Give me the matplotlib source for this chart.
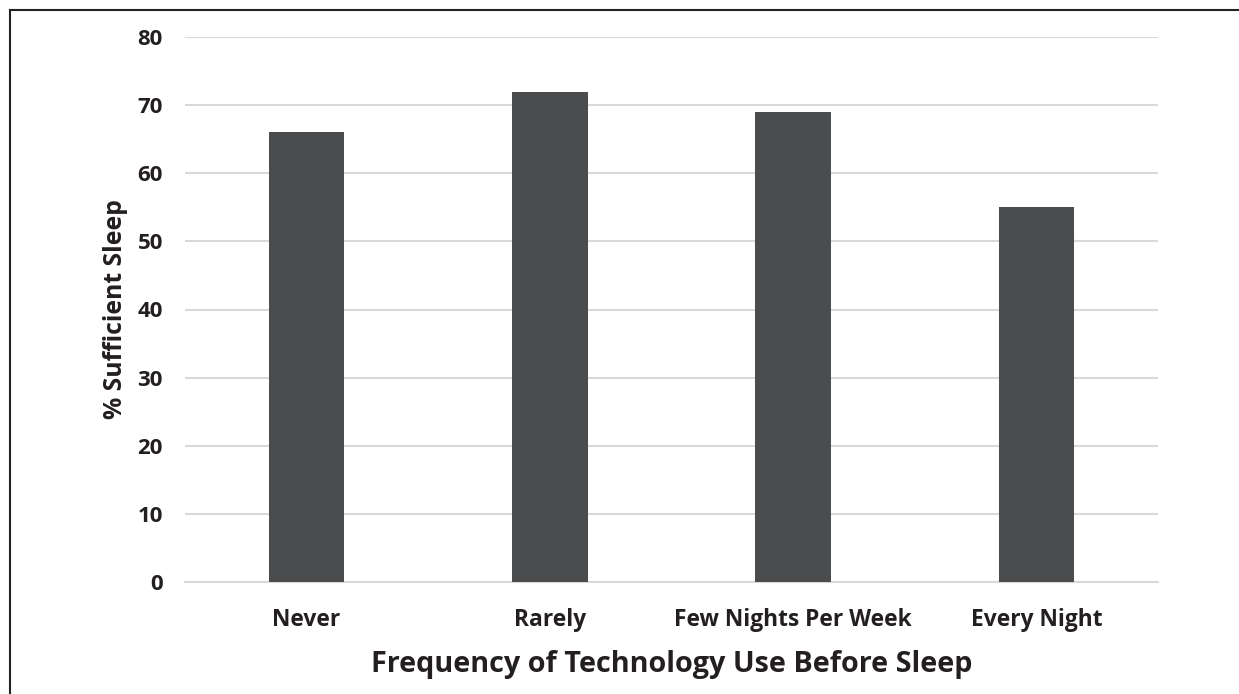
import matplotlib
matplotlib.use("Agg")
import matplotlib.pyplot as plt
from matplotlib.lines import Line2D

categories = ["Never", "Rarely", "Few Nights Per Week", "Every Night"]
values = [66, 72, 69, 55]
yticks = [0, 10, 20, 30, 40, 50, 60, 70, 80]

plt.rcParams['font.family'] = ['Open Sans', 'DejaVu Sans']
W, H = 1239, 694
fig = plt.figure(figsize=(W/100, H/100), dpi=100)
ax = fig.add_axes([185/W, 1-582/H, (1158-185)/W, (582-37)/H])

x = range(len(categories))
ax.bar(x, values, width=0.31, color="#4b4c4e", zorder=3)
ax.set_xlim(-0.5, len(categories)-0.5)
ax.set_ylim(0, 80)
ax.set_yticks(yticks)
ax.set_xticks(list(x))
ax.set_xticklabels(categories)
ax.yaxis.grid(True, color="#d9d9d9", linewidth=1.5, zorder=0)
ax.set_axisbelow(True)
for s in ["top", "right", "left"]:
    ax.spines[s].set_visible(False)
ax.spines["bottom"].set_color("#d9d9d9")
ax.spines["bottom"].set_linewidth(1.5)
ax.tick_params(axis="y", length=0, labelsize=16, colors="#231f20", pad=16)
ax.tick_params(axis="x", length=0, labelsize=16.4, colors="#231f20", pad=19)
for lab in ax.get_xticklabels() + ax.get_yticklabels():
    lab.set_fontweight("bold")
ax.set_ylabel("% Sufficient Sleep", fontsize=17.8, fontweight="bold", color="#231f20", labelpad=7)
ax.set_xlabel("Frequency of Technology Use Before Sleep", fontsize=20.7, fontweight="bold", color="#231f20", labelpad=13)

# figure border (top and left)
fig.add_artist(Line2D([9.5/W, 1], [1-9.5/H, 1-9.5/H], transform=fig.transFigure, color="#222222", linewidth=1.5))
fig.add_artist(Line2D([9.5/W, 9.5/W], [0, 1-9.5/H], transform=fig.transFigure, color="#222222", linewidth=1.5))

fig.savefig("out.png", dpi=100)
